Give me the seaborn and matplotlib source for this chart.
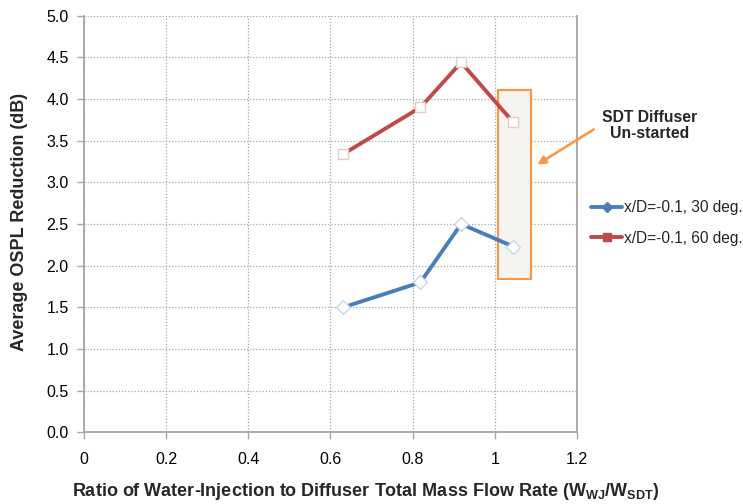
import matplotlib
matplotlib.use("Agg")
import matplotlib.pyplot as plt
import seaborn as sns
import pandas as pd
from matplotlib.lines import Line2D
from matplotlib.patches import Rectangle

# ---- data ----
ratio = [0.631, 0.819, 0.918, 1.045]
ospl_30 = [1.50, 1.80, 2.50, 2.23]
ospl_60 = [3.34, 3.90, 4.44, 3.72]
series_names = ["x/D=-0.1, 30 deg.", "x/D=-0.1, 60 deg."]
x_ticks = [0, 0.2, 0.4, 0.6, 0.8, 1.0, 1.2]
x_tick_labels = ["0", "0.2", "0.4", "0.6", "0.8", "1", "1.2"]
y_ticks = [0.0, 0.5, 1.0, 1.5, 2.0, 2.5, 3.0, 3.5, 4.0, 4.5, 5.0]
box_x = [1.007, 1.089]
box_y = [1.84, 4.11]

sns.set_style("white")
plt.rcParams["font.family"] = ["Liberation Sans", "DejaVu Sans"]
plt.rcParams["mathtext.fontset"] = "custom"
plt.rcParams["mathtext.rm"] = "Liberation Sans"
plt.rcParams["mathtext.bf"] = "Liberation Sans:bold"

df = pd.DataFrame({
    "ratio": ratio + ratio,
    "ospl": ospl_30 + ospl_60,
    "series": [series_names[0]] * len(ratio) + [series_names[1]] * len(ratio),
})
colors = {series_names[0]: "#4a7ebb", series_names[1]: "#be4b48"}
marker_edges = {series_names[0]: "#c8d6ea", series_names[1]: "#ecc9c8"}

fig = plt.figure(figsize=(7.43, 5.04), dpi=100)
ax = fig.add_axes([0.113, 0.1423, 0.6636, 0.8264])

sns.lineplot(data=df, x="ratio", y="ospl", hue="series", palette=colors,
             ax=ax, linewidth=2.8, legend=False, zorder=4, sort=False)
mk = {series_names[0]: "D", series_names[1]: "s"}
for name in series_names:
    sub = df[df["series"] == name]
    ax.scatter(sub["ratio"], sub["ospl"], marker=mk[name], s=50 if name == series_names[0] else 60,
               facecolor="white", edgecolor=marker_edges[name], linewidth=1.0, zorder=5)

# shaded box
ax.add_patch(Rectangle((box_x[0], box_y[0]), box_x[1] - box_x[0], box_y[1] - box_y[0],
                       facecolor="#f5f4f0", edgecolor="#f79646", linewidth=1.5, zorder=3))

ax.set_xlim(0, 1.2)
ax.set_ylim(0, 5.0)
ax.set_xticks(x_ticks)
ax.set_xticklabels(x_tick_labels, fontsize=11.5)
ax.set_yticks(y_ticks)
ax.set_yticklabels([f"{v:.1f}" for v in y_ticks], fontsize=11.5)
ax.grid(True, which="major", color="#a6a6a6", linestyle=(0, (1, 1.5)), linewidth=0.9, zorder=0)
ax.set_axisbelow(True)
ax.spines["top"].set_visible(False)
for s in ["left", "bottom", "right"]:
    ax.spines[s].set_color("#a6a6a6")
    ax.spines[s].set_linewidth(1.3)
ax.tick_params(axis="both", direction="out", length=5, width=1, color="#a6a6a6",
               bottom=True, left=True, labelcolor="black")
ax.tick_params(axis="y", pad=6)
ax.tick_params(axis="x", pad=9)

ax.set_xlabel(r"Ratio of Water-Injection to Diffuser Total Mass Flow Rate (W$_{\mathbf{WJ}}$/W$_{\mathbf{SDT}}$)",
              fontsize=13, fontweight="bold")
ax.xaxis.set_label_coords(0.571, -0.117)
ax.set_ylabel("Average OSPL Reduction (dB)", fontsize=13, fontweight="bold")
ax.yaxis.set_label_coords(-0.114, 0.505)

# annotation
fig.text(650 / 743, 1 - 117 / 504, "SDT Diffuser", ha="center", va="center",
         fontsize=11.3, fontweight="bold")
fig.text(650 / 743, 1 - 134 / 504, "Un-started", ha="center", va="center",
         fontsize=11.3, fontweight="bold")
ax.annotate("", xy=(535 / 743, 1 - 166 / 504), xycoords="figure fraction",
            xytext=(596 / 743, 1 - 128 / 504), textcoords="figure fraction",
            arrowprops=dict(arrowstyle="-|>", color="#f79646", lw=1.8, mutation_scale=12),
            annotation_clip=False)

handles = [Line2D([0], [0], color=colors[series_names[0]], lw=2.8, marker="D", markersize=5,
                  markerfacecolor=colors[series_names[0]], markeredgecolor=colors[series_names[0]]),
           Line2D([0], [0], color=colors[series_names[1]], lw=2.8, marker="s", markersize=6,
                  markerfacecolor=colors[series_names[1]], markeredgecolor=colors[series_names[1]])]
fig.legend(handles, series_names, loc="upper left", bbox_to_anchor=(591 / 743, 1 - 200 / 504),
           frameon=False, fontsize=11.2, handlelength=2.0, handletextpad=0.1,
           labelspacing=1.0, borderpad=0, borderaxespad=0)

fig.savefig("out.png", dpi=100)
